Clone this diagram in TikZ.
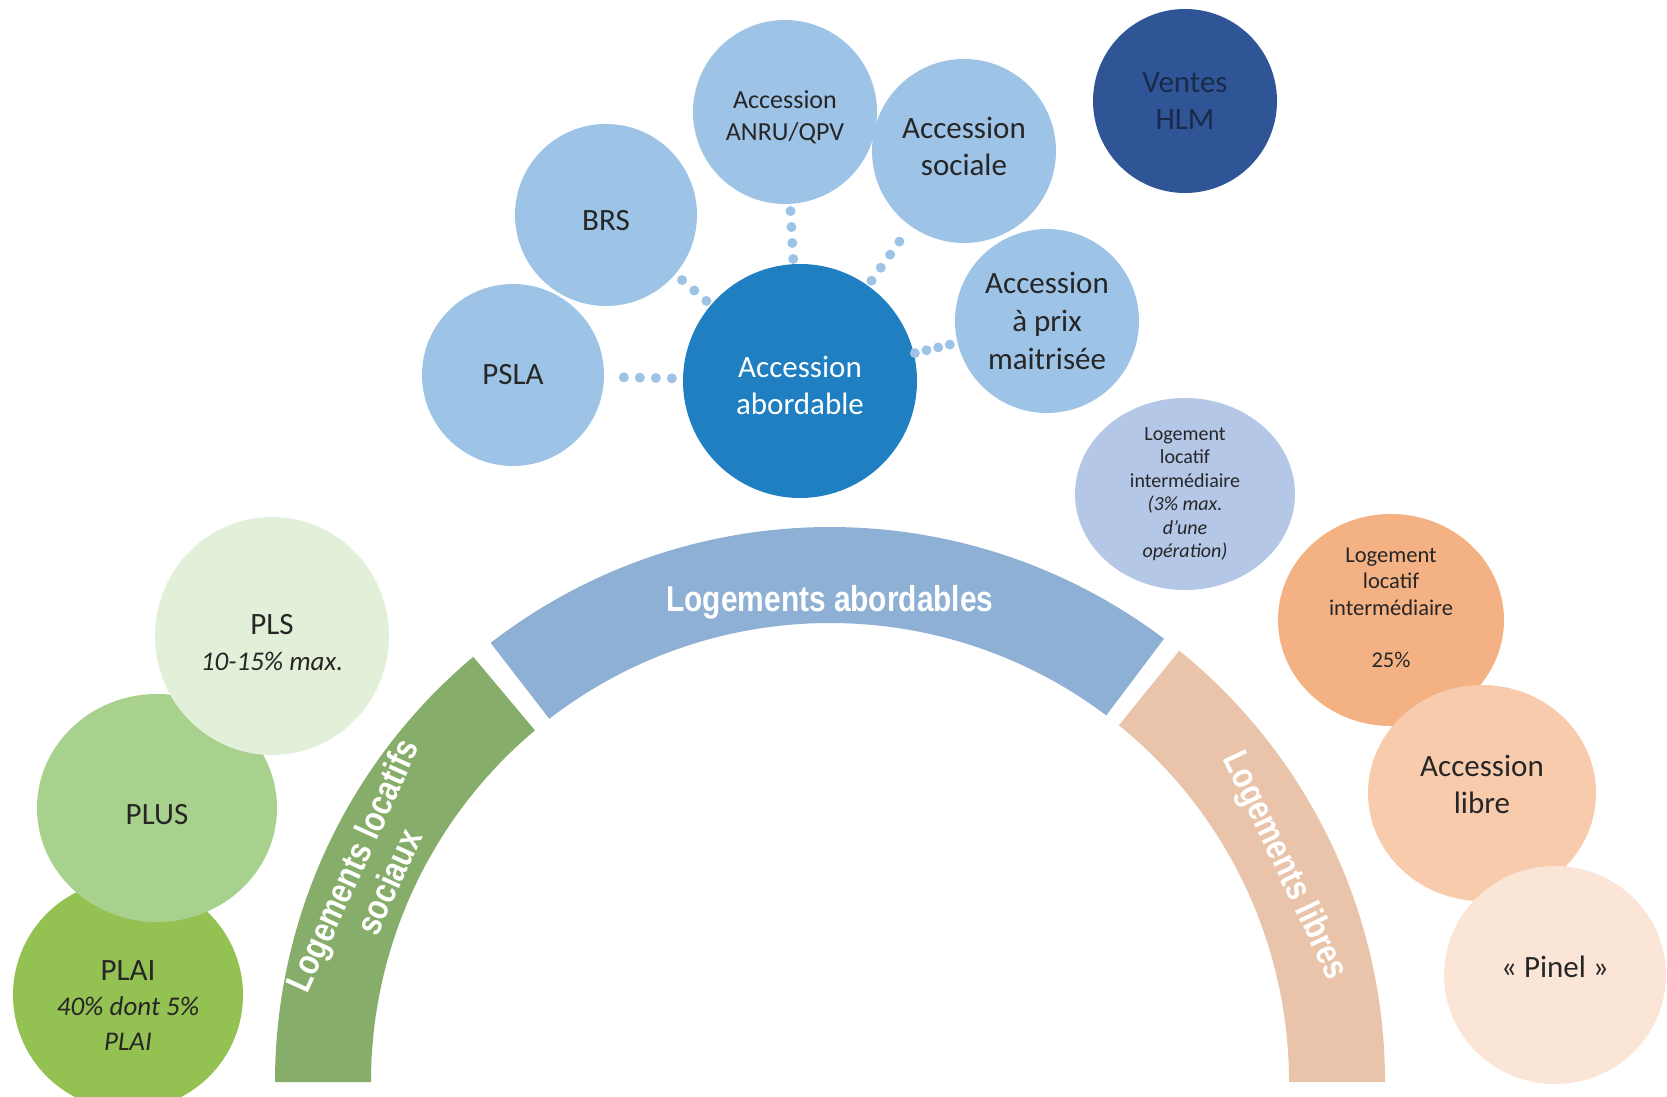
\documentclass[tikz,border=0pt]{standalone}
\usepackage{fontspec}
\setmainfont{Carlito}
\newfontfamily\arcfont[FakeStretch=0.83]{Liberation Sans Bold}
\usetikzlibrary{shapes.geometric}

\definecolor{bluedark}{HTML}{2F5597}
\definecolor{bluemid}{HTML}{1F7FC1}
\definecolor{bluelight}{HTML}{9DC3E6}
\definecolor{bluelli}{HTML}{B4C7E7}
\definecolor{arcblue}{HTML}{8EB0D4}
\definecolor{arcgreen}{HTML}{86AD69}
\definecolor{arcorange}{HTML}{E9C4AA}
\definecolor{greendark}{HTML}{93C152}
\definecolor{greenmid}{HTML}{A9D18E}
\definecolor{greenlight}{HTML}{E2EFD9}
\definecolor{orangedark}{HTML}{F4B183}
\definecolor{orangemid}{HTML}{F8CBAD}
\definecolor{orangelight}{HTML}{FBE5D6}
\definecolor{inkgrey}{HTML}{262626}
\definecolor{inknavy}{HTML}{1A2A48}

\tikzset{bub/.style={ellipse,inner sep=0pt,align=center,text=inkgrey,font=\fontsize{31}{37}\selectfont},
         bubsz/.style 2 args={minimum width=#1pt,minimum height=#2pt},
         dotlink/.style 2 args={draw=bluelight,line width=10pt,line cap=round,dash pattern=on 0pt off #2pt,
                         shorten <=#1pt,shorten >=#1pt},
         arclab/.style={text=white,align=center,font=\arcfont\fontsize{36}{40}\selectfont}}

\begin{document}
\begin{tikzpicture}[x=1pt,y=1pt]
  \useasboundingbox (0,0) rectangle (1667,1096);
  % the three ring segments
  \begin{scope}[shift={(830,14)}]
    \fill[arcgreen] (180:555) arc[start angle=180,end angle=130,radius=555]
      -- (130:459) arc[start angle=130,end angle=180,radius=459] -- cycle;
    \fill[arcblue] (127.7:555) arc[start angle=127.7,end angle=53,radius=555]
      -- (53:459) arc[start angle=53,end angle=127.7,radius=459] -- cycle;
    \fill[arcorange] (51:555) arc[start angle=51,end angle=0,radius=555]
      -- (0:459) arc[start angle=0,end angle=51,radius=459] -- cycle;
    \node[arclab] (labAbord) at (90:480) {Logements abordables};
    \node[arclab,rotate=65.6] (labSociaux) at (155.6:505) {Logements locatifs\\sociaux};
    \node[arclab,rotate=-64.6] (labLibres) at (25.4:503) {Logements libres};
  \end{scope}
  % accession bubbles
  \node[bub,bubsz={184}{184},fill=bluedark,text=inknavy] (ventes) at (1185,995) {Ventes\\HLM};
  \node[bub,bubsz={184}{184},fill=bluelight,font=\fontsize{26}{32}\selectfont] (anru) at (785,984)
    {\rule{0pt}{29pt}Accession\\ANRU/QPV};
  \node[bub,bubsz={184}{184},fill=bluelight] (sociale) at (964,945) {Accession\\sociale\rule[-10pt]{0pt}{10pt}};
  \node[bub,bubsz={182}{182},fill=bluelight] (brs) at (606,881) {\rule{0pt}{31pt}BRS};
  \node[bub,bubsz={184}{184},fill=bluelight,font=\fontsize{31}{38}\selectfont] (prix) at (1047,775) {Accession\\à prix\\maitrisée};
  \node[bub,bubsz={182}{182},fill=bluelight] (psla) at (513,721) {PSLA};
  \node[bub,bubsz={234}{234},fill=bluemid,text=white] (abord) at (800,715) {\rule{0pt}{31pt}Accession\\abordable};
  \foreach \o/\s/\g in {psla/11/16,brs/6/16,anru/5/16,sociale/6/16,prix/1/12}
    \draw[dotlink={\s}{\g}] (abord) -- (\o);
  % intermediate housing
  \node[bub,bubsz={220}{192},fill=bluelli,font=\fontsize{20}{23.5}\selectfont] (lliBleu) at (1185,602)
    {Logement\\locatif\\intermédiaire\\\textit{(3\% max.}\\\textit{d’une}\\\textit{opération)}};
  \node[bub,bubsz={226}{212},fill=orangedark,font=\fontsize{22.5}{26.6}\selectfont] (lliOrange) at (1391,476)
    {Logement\\locatif\\intermédiaire\\[26pt]25\%\\[-2pt]\mbox{}};
  \node[bub,bubsz={228}{216},fill=orangemid] (libre) at (1482,303) {Accession\\libre\rule[-18pt]{0pt}{18pt}};
  \node[bub,bubsz={222}{218},fill=orangelight] (pinel) at (1555,121) {« Pinel »\rule[-17pt]{0pt}{17pt}};
  % social rental
  \node[bub,bubsz={230}{230},fill=greendark,font=\fontsize{31}{35}\selectfont] (plai) at (128,101)
    {\rule{0pt}{40pt}PLAI\\{\fontsize{27}{35}\selectfont\itshape 40\% dont 5\%}\\{\fontsize{27}{35}\selectfont\itshape PLAI}};
  \node[bub,bubsz={240}{228},fill=greenmid] (plus) at (157,288) {\rule{0pt}{33pt}PLUS};
  \node[bub,bubsz={234}{238},fill=greenlight,font=\fontsize{31}{36}\selectfont] (pls) at (272,460)
    {\rule{0pt}{34pt}PLS\\{\fontsize{27}{36}\selectfont\itshape 10-15\% max.}};
\end{tikzpicture}
\end{document}
